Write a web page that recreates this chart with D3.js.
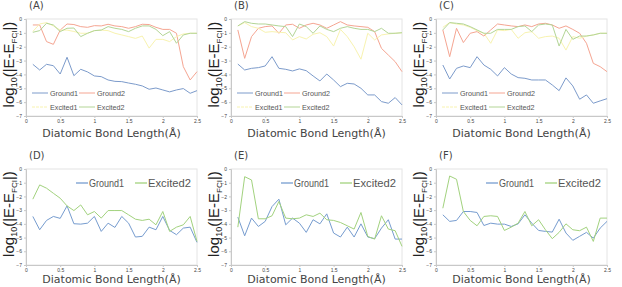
<!DOCTYPE html>
<meta charset="utf-8">
<head>
  <title>bond length errors</title>
  <script src="https://cdnjs.cloudflare.com/ajax/libs/d3/7.8.5/d3.min.js"></script>
</head>
<style>
body { margin: 0; background: #fff; }
.tick text { font: 5px "Liberation Sans", Arial, sans-serif; fill: #444; }
</style>
<body>
<svg id="chart" width="622" height="287"></svg>
<script>
// bond lengths 0.1 .. 2.5
var bondLength = [0.1,0.2,0.3,0.4,0.5,0.6,0.7,0.8,0.9,1.0,1.1,1.2,1.3,1.4,1.5,1.6,1.7,1.8,1.9,2.0,2.1,2.2,2.3,2.4,2.5];
var xTicks = [0, 0.5, 1, 1.5, 2, 2.5];
var yTicks = [0, -1, -2, -3, -4, -5, -6, -7];
var panelTitles = ["(A)", "(B)", "(C)", "(D)", "(E)", "(F)"];

// panel A
var aGround1  = [-3.27,-3.68,-3.27,-3.37,-3.97,-2.76,-4.09,-3.63,-3.82,-4.11,-4.16,-4.40,-4.50,-4.52,-4.62,-4.71,-4.83,-5.07,-4.98,-5.12,-5.26,-5.12,-5.02,-5.36,-5.17];
var aGround2  = [-0.43,-0.43,-1.63,-1.83,-0.80,-0.36,-0.40,-0.55,-0.60,-0.48,-0.50,-0.38,-0.50,-0.55,-0.67,-0.55,-0.38,-0.40,-0.60,-0.75,-0.75,-1.03,-3.44,-4.40,-3.80];
var aExcited1 = [-0.90,-0.36,-0.26,-0.50,-0.80,-0.80,-0.90,-1.03,-1.03,-0.84,-0.80,-0.84,-1.03,-1.15,-1.27,-1.40,-1.23,-2.10,-1.47,-1.47,-1.63,-1.27,-1.08,-1.03,-1.03];
var aExcited2 = [-0.96,-0.84,-0.31,-0.43,-0.91,-0.67,-0.65,-1.27,-1.03,-0.84,-0.80,-0.55,-0.67,-0.75,-0.91,-0.67,-0.50,-0.50,-0.75,-1.20,-0.91,-1.75,-1.15,-1.03,-1.03];
// panel B
var bGround1  = [-3.25,-3.68,-3.56,-3.51,-3.39,-2.72,-3.56,-3.63,-3.75,-3.60,-3.73,-4.11,-4.47,-3.97,-4.40,-4.88,-4.64,-4.69,-5.00,-5.48,-5.48,-5.96,-6.08,-5.67,-6.20];
var bGround2  = [-0.79,-2.84,-1.27,-0.67,-0.55,-0.50,-1.03,-0.43,-0.38,-0.67,-0.43,-0.31,-0.43,-0.67,-0.43,-0.19,-0.43,-0.50,-0.55,-0.60,-0.91,-2.12,-2.60,-3.08,-3.80];
var bExcited1 = [-0.50,-0.26,-0.55,-0.67,-0.96,-0.91,-0.96,-0.99,-1.51,-1.27,-1.44,-1.10,-0.99,-1.27,-1.95,-0.75,-1.27,-2.00,-2.90,-1.03,-1.51,-1.15,-1.08,-1.03,-0.99];
var bExcited2 = [-0.50,-0.19,-0.31,-0.36,-0.36,-0.43,-0.50,-0.55,-1.27,-0.36,-0.55,-1.03,-0.50,-0.75,-0.91,-0.67,-0.55,-0.67,-0.75,-0.75,-0.91,-0.67,-1.03,-1.03,-0.99];
// panel C
var cGround1  = [-3.32,-4.33,-3.56,-3.39,-3.51,-2.72,-3.32,-3.63,-4.11,-3.51,-3.97,-4.23,-4.28,-4.40,-4.40,-4.40,-4.76,-5.17,-4.25,-4.83,-5.79,-5.48,-6.08,-5.91,-5.75];
var cGround2  = [-0.79,-2.72,-0.67,-1.70,-1.03,-0.91,-1.23,-0.79,-0.36,-0.43,-0.50,-0.55,-0.43,-0.55,-0.36,-0.31,-0.43,-0.67,-0.50,-0.75,-1.03,-1.75,-3.20,-3.44,-3.80];
var cExcited1 = [-0.60,-0.26,-0.36,-0.43,-0.60,-0.84,-1.03,-1.75,-0.79,-0.84,-0.75,-1.39,-0.99,-0.91,-1.39,-1.27,-1.23,-1.39,-2.24,-1.27,-1.39,-1.23,-1.15,-1.03,-1.03];
var cExcited2 = [-0.79,-0.26,-0.31,-0.36,-0.55,-0.79,-1.03,-1.03,-0.75,-0.75,-0.75,-0.55,-0.50,-0.91,-0.43,-0.36,-0.43,-1.95,-0.75,-1.47,-1.23,-1.23,-1.15,-1.03,-1.03];
// panel D
var dGround1  = [-3.46,-4.43,-3.75,-3.46,-3.60,-2.69,-3.99,-4.02,-3.95,-3.46,-4.55,-3.95,-4.26,-3.46,-3.95,-4.96,-4.91,-4.24,-4.43,-3.46,-4.48,-4.79,-4.31,-4.24,-5.35];
var dExcited2 = [-2.20,-1.16,-1.40,-1.77,-2.13,-2.69,-3.03,-2.62,-3.34,-3.10,-3.58,-3.03,-3.03,-3.03,-3.34,-3.66,-3.75,-3.66,-4.07,-3.10,-4.55,-4.24,-4.07,-3.46,-5.28];
// panel E
var eGround1  = [-3.51,-4.87,-3.58,-4.19,-3.82,-2.74,-2.20,-4.07,-3.58,-3.95,-4.62,-3.70,-4.00,-3.27,-4.67,-4.96,-4.24,-4.96,-4.00,-4.96,-5.08,-4.31,-3.70,-5.11,-5.11];
var eExcited2 = [-4.24,-0.56,-0.80,-3.63,-3.63,-3.41,-2.37,-3.58,-3.63,-3.58,-3.34,-3.46,-3.22,-3.70,-3.75,-3.90,-4.14,-4.38,-3.17,-4.92,-5.11,-3.41,-4.38,-4.50,-5.64];
// panel F
var fGround1  = [-3.34,-3.82,-3.75,-3.10,-3.10,-3.17,-4.12,-3.95,-4.02,-4.02,-4.19,-4.00,-3.34,-3.95,-4.48,-4.55,-4.60,-3.66,-4.67,-5.20,-4.91,-4.62,-5.04,-4.31,-3.82];
var fExcited2 = [-2.86,-0.51,-0.75,-3.10,-3.75,-4.14,-3.46,-3.41,-3.46,-4.48,-4.24,-3.95,-3.10,-4.14,-3.70,-4.43,-5.08,-4.62,-4.00,-4.43,-4.50,-4.24,-5.28,-3.58,-3.58];

var colors = {Ground1: "#7c9bcb", Ground2: "#f5a592", Excited1: "#f8f3b0", Excited2: "#b3d596"};
var colorsBottom = {Ground1: "#769ccf", Excited2: "#a2d27e"};
// legend text widths in the bottom row (narrow font)
var bottomLegendWidth = {Ground1: 35, Excited2: 43};

var panels = [
  {title: panelTitles[0], col: 0, row: 0, series: [["Ground1", aGround1], ["Ground2", aGround2], ["Excited1", aExcited1], ["Excited2", aExcited2]]},
  {title: panelTitles[1], col: 1, row: 0, series: [["Ground1", bGround1], ["Ground2", bGround2], ["Excited1", bExcited1], ["Excited2", bExcited2]]},
  {title: panelTitles[2], col: 2, row: 0, series: [["Ground1", cGround1], ["Ground2", cGround2], ["Excited1", cExcited1], ["Excited2", cExcited2]]},
  {title: panelTitles[3], col: 0, row: 1, series: [["Ground1", dGround1], ["Excited2", dExcited2]]},
  {title: panelTitles[4], col: 1, row: 1, series: [["Ground1", eGround1], ["Excited2", eExcited2]]},
  {title: panelTitles[5], col: 2, row: 1, series: [["Ground1", fGround1], ["Excited2", fExcited2]]}
];

var svg = d3.select("#chart");

panels.forEach(function(p) {
  var ox = p.col * 205;
  var oy = p.row * 140;
  var left = 26, right = 197;
  var top = p.row == 0 ? 19 : 29;
  var bottom = p.row == 0 ? 116 : 125;

  var g = svg.append("g").attr("transform", "translate(" + ox + "," + oy + ")");

  var x = d3.scaleLinear().domain([0, 2.5]).range([left, right]);
  var y = d3.scaleLinear().domain([0, -7]).range([top, bottom]);

  // frame
  g.append("rect")
    .attr("x", left).attr("y", top)
    .attr("width", right - left).attr("height", bottom - top)
    .style("fill", "none").style("stroke", "#e4e4e4").style("stroke-width", 1);

  var yAxis = g.append("g")
    .attr("transform", "translate(" + left + ",0)")
    .call(d3.axisLeft(y).tickValues(yTicks).tickSize(2).tickPadding(2).tickFormat(d3.format("d")));
  var xAxis = g.append("g")
    .attr("transform", "translate(0," + bottom + ")")
    .call(d3.axisBottom(x).tickValues(xTicks).tickSize(2).tickPadding(1).tickFormat(function(d){ return d; }));
  [xAxis, yAxis].forEach(function(a) {
    a.select(".domain").style("stroke", "#c8c8c8");
    a.selectAll(".tick line").style("stroke", "#c8c8c8");
  });

  var line = d3.line()
    .x(function(d, i) { return x(bondLength[i]); })
    .y(function(d) { return y(d); });

  var cols = p.row == 0 ? colors : colorsBottom;
  p.series.forEach(function(s) {
    g.append("path")
      .datum(s[1])
      .attr("d", line)
      .style("fill", "none")
      .style("stroke", cols[s[0]])
      .style("stroke-width", 1);
  });

  // legend
  if (p.row == 0) {
    p.series.forEach(function(s, i) {
      var lx = i % 2 == 0 ? 32 : 79;
      var ly = i < 2 ? 93 : 107;
      g.append("line")
        .attr("x1", lx).attr("x2", lx + 16).attr("y1", ly).attr("y2", ly)
        .style("stroke", cols[s[0]]).style("stroke-width", 1)
        .style("stroke-dasharray", s[0] == "Excited1" ? "3,1" : null);
      g.append("text")
        .attr("x", lx + 18).attr("y", ly + 2.5)
        .style("font", "7.2px 'Liberation Sans', Arial, sans-serif")
        .style("fill", "#555")
        .text(s[0]);
    });
  } else {
    p.series.forEach(function(s, i) {
      var lx = i == 0 ? 76 : 135;
      var ly = 43;
      g.append("line")
        .attr("x1", lx).attr("x2", lx + 12).attr("y1", ly).attr("y2", ly)
        .style("stroke", cols[s[0]]).style("stroke-width", 1.3);
      g.append("text")
        .attr("x", lx + 13).attr("y", ly + 3.8)
        .attr("textLength", bottomLegendWidth[s[0]])
        .attr("lengthAdjust", "spacingAndGlyphs")
        .style("font", "11px 'Liberation Sans', Arial, sans-serif")
        .style("fill", "#555")
        .text(s[0]);
    });
  }

  // title
  g.append("text")
    .attr("x", 29).attr("y", p.row == 0 ? 9 : 19)
    .style("font", "10px 'DejaVu Sans', Verdana, sans-serif")
    .style("fill", "#444")
    .text(p.title);

  // x label
  g.append("text")
    .attr("x", (left + right) / 2).attr("y", bottom + (p.row == 0 ? 21 : 18))
    .attr("text-anchor", "middle")
    .style("font", "11px 'DejaVu Sans', Verdana, sans-serif")
    .style("fill", "#444")
    .text("Diatomic Bond Length(\u00c5)");

  // y label
  var yl = g.append("text")
    .attr("transform", "translate(" + 13.5 + "," + ((top + bottom) / 2 - 3) + ") rotate(-90)")
    .attr("text-anchor", "middle")
    .style("font", "15px 'Liberation Sans', Arial, sans-serif")
    .style("fill", "#222");
  yl.append("tspan").text("log");
  yl.append("tspan").attr("dy", 3).style("font-size", "9px").text("10");
  yl.append("tspan").attr("dy", -3).text("(|E-E");
  yl.append("tspan").attr("dy", 3).style("font-size", "8px").text("FCI");
  yl.append("tspan").attr("dy", -3).text("|)");
});
</script>
</body>
</html>
